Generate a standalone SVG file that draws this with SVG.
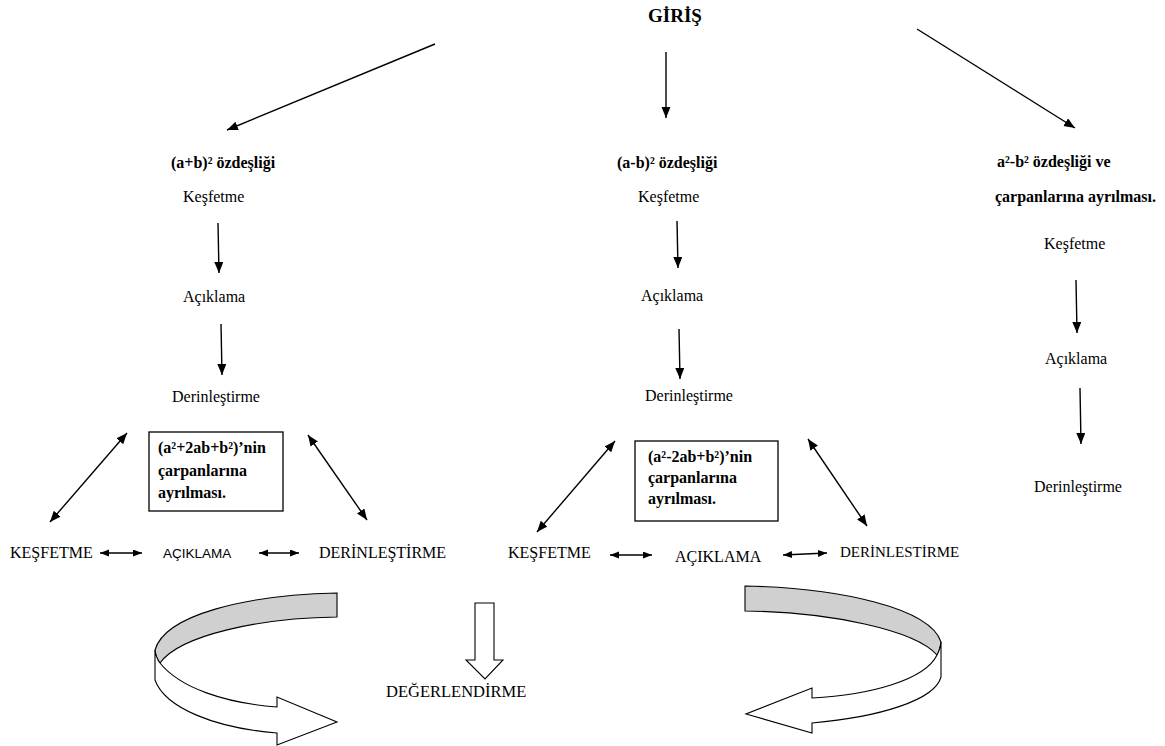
<svg xmlns="http://www.w3.org/2000/svg" width="1165" height="746" viewBox="0 0 1165 746">
<defs>
<style>
text{font-family:"Liberation Serif","Times New Roman",serif;fill:#000;font-size:16px}
.b{font-weight:bold}
.t{font-size:19px;font-weight:bold}
.s{font-family:"Liberation Sans",Arial,sans-serif;font-size:13.5px}
.ln{stroke:#000;stroke-width:1.4;fill:none}
.box{fill:#fff;stroke:#000;stroke-width:1.3}
.band{stroke:#000;stroke-width:1.1}
</style>
<marker id="ah" markerUnits="userSpaceOnUse" markerWidth="12" markerHeight="10" refX="11" refY="4.5" orient="auto-start-reverse" viewBox="0 0 12 10">
<path d="M0,0 L11,4.5 L0,9 Z" fill="#000"/>
</marker>
<marker id="ahs" markerUnits="userSpaceOnUse" markerWidth="10" markerHeight="8" refX="9" refY="3.5" orient="auto-start-reverse" viewBox="0 0 10 8">
<path d="M0,0 L9,3.5 L0,7 Z" fill="#000"/>
</marker>
</defs>
<rect width="1165" height="746" fill="#fff"/>

<g id="connectors">
<line class="ln" x1="435" y1="44" x2="227" y2="130" marker-end="url(#ah)"/>
<line class="ln" x1="666" y1="52" x2="666" y2="118" marker-end="url(#ah)"/>
<line class="ln" x1="917" y1="29" x2="1075" y2="128" marker-end="url(#ah)"/>
<line class="ln" x1="218" y1="223" x2="219" y2="273" marker-end="url(#ah)"/>
<line class="ln" x1="221" y1="324" x2="222" y2="375" marker-end="url(#ah)"/>
<line class="ln" x1="677" y1="221" x2="678" y2="268" marker-end="url(#ah)"/>
<line class="ln" x1="679" y1="329" x2="680" y2="379" marker-end="url(#ah)"/>
<line class="ln" x1="1076" y1="280" x2="1077" y2="333" marker-end="url(#ah)"/>
<line class="ln" x1="1080" y1="388" x2="1081" y2="444" marker-end="url(#ah)"/>
<line class="ln" x1="50" y1="522" x2="127" y2="433" marker-start="url(#ah)" marker-end="url(#ah)"/>
<line class="ln" x1="308" y1="435" x2="367" y2="520" marker-start="url(#ah)" marker-end="url(#ah)"/>
<line class="ln" x1="100" y1="553" x2="142" y2="553" marker-start="url(#ahs)" marker-end="url(#ahs)"/>
<line class="ln" x1="259" y1="553" x2="299" y2="553" marker-start="url(#ahs)" marker-end="url(#ahs)"/>
<line class="ln" x1="537" y1="532" x2="615" y2="441" marker-start="url(#ah)" marker-end="url(#ah)"/>
<line class="ln" x1="808" y1="439" x2="867" y2="526" marker-start="url(#ah)" marker-end="url(#ah)"/>
<line class="ln" x1="610" y1="555" x2="652" y2="555" marker-start="url(#ahs)" marker-end="url(#ahs)"/>
<line class="ln" x1="783" y1="555" x2="827" y2="553" marker-start="url(#ahs)" marker-end="url(#ahs)"/>
</g>

<g id="giris"><text class="t" x="648" y="22">GİRİŞ</text></g>

<g id="col1">
<text class="b" x="171" y="168">(a+b)² özdeşliği</text>
<text x="183" y="202">Keşfetme</text>
<text x="183" y="302">Açıklama</text>
<text x="172" y="402">Derinleştirme</text>
</g>
<g id="box1">
<rect class="box" x="149" y="432" width="134" height="79"/>
<text class="b" x="158" y="453">(a²+2ab+b²)’nin</text>
<text class="b" x="158" y="476">çarpanlarına</text>
<text class="b" x="158" y="498">ayrılması.</text>
</g>
<g id="cycle1">
<text x="10" y="558">KEŞFETME</text>
<text class="s" x="163" y="558">AÇIKLAMA</text>
<text x="319" y="558">DERİNLEŞTİRME</text>
</g>

<g id="col2">
<text class="b" x="617" y="168">(a-b)² özdeşliği</text>
<text x="638" y="202">Keşfetme</text>
<text x="641" y="301">Açıklama</text>
<text x="645" y="401">Derinleştirme</text>
</g>
<g id="box2">
<rect class="box" x="635" y="441" width="143" height="80"/>
<text class="b" x="648" y="462">(a²-2ab+b²)’nin</text>
<text class="b" x="648" y="483">çarpanlarına</text>
<text class="b" x="648" y="504">ayrılması.</text>
</g>
<g id="cycle2">
<text x="508" y="558">KEŞFETME</text>
<text x="675" y="562">AÇIKLAMA</text>
<text x="840" y="557" style="font-size:15px">DERİNLESTİRME</text>
</g>

<g id="col3">
<text class="b" x="997" y="167">a²-b² özdeşliği ve</text>
<text class="b" x="995" y="202">çarpanlarına ayrılması.</text>
<text x="1044" y="249">Keşfetme</text>
<text x="1045" y="364">Açıklama</text>
<text x="1034" y="492">Derinleştirme</text>
</g>

<g id="curve-left">
<path class="band" fill="#d0d0d0" d="M337,593 C245,595 165,615 155,650 Q156,658 160,663 C180,635 260,618 337,617 Z"/>
<path class="band" fill="#fff" d="M155,650 Q156,658 160,663 C180,688 225,703 277,707 L277,697 L337,722 L277,745 L277,733 C215,728 165,708 155,680 Z"/>
</g>
<g id="curve-right">
<path class="band" fill="#d0d0d0" d="M745,586 C840,588 930,608 941,642 Q940,650 937,655 C915,630 830,612 745,611 Z"/>
<path class="band" fill="#fff" d="M941,642 L941,677 C935,700 880,717 812,723 L812,733 L746,714 L812,688 L812,698 C870,695 925,680 937,655 Q940,650 941,642 Z"/>
</g>

<g id="degerlendirme">
<path class="band" fill="#fff" d="M475,603 L494,603 L494,660 L503,660 L485,679 L466,660 L475,660 Z"/>
<text x="386" y="697" style="font-size:16.5px">DEĞERLENDİRME</text>
</g>
</svg>
